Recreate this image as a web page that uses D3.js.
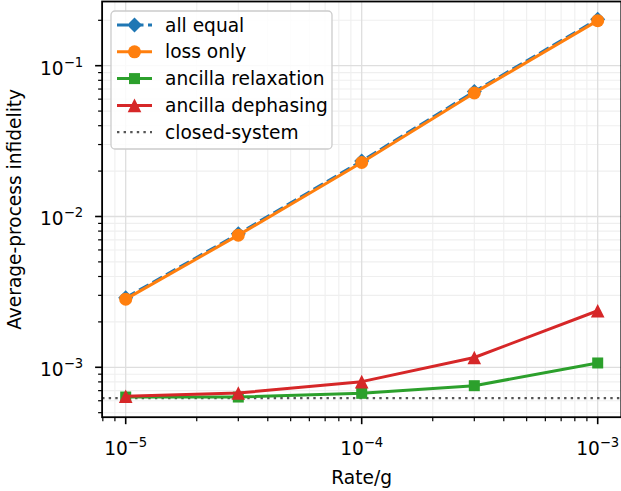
<!DOCTYPE html>
<html><head><meta charset="utf-8">
<script src="https://cdn.jsdelivr.net/npm/d3@7"></script>
<style>body{margin:0;background:#fff}svg{display:block}text{font-family:"DejaVu Sans",sans-serif;fill:#000}</style>
</head><body><svg id="c" width="621" height="491"></svg>
<script>
const rates = [1e-5, 3e-5, 1e-4, 3e-4, 1e-3];
const allEqual = [0.00289, 0.00767, 0.0233, 0.0674, 0.203];
const lossOnly = [0.00283, 0.00752, 0.0228, 0.0660, 0.199];
const ancillaRelaxation = [0.000635, 0.000635, 0.000672, 0.000755, 0.001068];
const ancillaDephasing = [0.000642, 0.000675, 0.000803, 0.001161, 0.00237];
const closedSystem = 0.000625;
const xMajorTicks = [1e-5, 1e-4, 1e-3];
const xTickExps = ["−5", "−4", "−3"];
const yMajorTicks = [1e-3, 1e-2, 1e-1];
const yTickExps = ["−3", "−2", "−1"];
const seriesNames = ["all equal", "loss only", "ancilla relaxation", "ancilla dephasing", "closed-system"];

const svg = d3.select("#c");
const L = 102.1, R = 621.3, T = 1.5, B = 417.2;
const FS = 18.6, SFS = 13.2;
const x = d3.scaleLog().domain([Math.pow(10, -5.1), Math.pow(10, -2.9)]).range([L, R]);
const y = d3.scaleLog().domain([Math.pow(10, -3.331), Math.pow(10, -0.5743)]).range([B, T]);

function minorTicks(lo, hi) {
  const out = [];
  for (let e = Math.floor(Math.log10(lo)); e <= Math.ceil(Math.log10(hi)); e++)
    for (let m = 2; m <= 9; m++) { const v = m * Math.pow(10, e); if (v >= lo && v <= hi) out.push(v); }
  return out;
}
const xMinor = minorTicks(x.domain()[0], x.domain()[1]);
const yMinor = minorTicks(y.domain()[0], y.domain()[1]);

// grid
const g = svg.append("g");
g.selectAll(".xm").data(xMinor).join("line").attr("x1", d => x(d)).attr("x2", d => x(d)).attr("y1", T).attr("y2", B).attr("stroke", "#efefef").attr("stroke-width", 1.1);
g.selectAll(".ym").data(yMinor).join("line").attr("y1", d => y(d)).attr("y2", d => y(d)).attr("x1", L).attr("x2", R).attr("stroke", "#efefef").attr("stroke-width", 1.1);
g.selectAll(".xM").data(xMajorTicks).join("line").attr("x1", d => x(d)).attr("x2", d => x(d)).attr("y1", T).attr("y2", B).attr("stroke", "#dedede").attr("stroke-width", 1.3);
g.selectAll(".yM").data(yMajorTicks).join("line").attr("y1", d => y(d)).attr("y2", d => y(d)).attr("x1", L).attr("x2", R).attr("stroke", "#dedede").attr("stroke-width", 1.3);

svg.append("clipPath").attr("id", "clip").append("rect").attr("x", L).attr("y", T).attr("width", R - L).attr("height", B - T);
const plot = svg.append("g").attr("clip-path", "url(#clip)");

// closed system
plot.append("line").attr("x1", L).attr("x2", R).attr("y1", y(closedSystem)).attr("y2", y(closedSystem))
  .attr("stroke", "#555").attr("stroke-width", 2.2).attr("stroke-dasharray", "2.4,4.2");

const line = d3.line().x((d, i) => x(rates[i])).y(d => y(d));
const series = [
  {vals: allEqual, color: "#1f77b4", dash: "11,4.5", sym: "diamond"},
  {vals: lossOnly, color: "#ff7f0e", dash: null, sym: "circle"},
  {vals: ancillaRelaxation, color: "#2ca02c", dash: null, sym: "square"},
  {vals: ancillaDephasing, color: "#d62728", dash: null, sym: "triangle"}
];
function marker(sel, sym, color) {
  if (sym === "circle") sel.append("circle").attr("r", 6.5).attr("fill", color);
  else if (sym === "square") sel.append("rect").attr("x", -5.5).attr("y", -5.5).attr("width", 11).attr("height", 11).attr("fill", color);
  else if (sym === "diamond") sel.append("path").attr("d", "M0,-7.5L7.5,0L0,7.5L-7.5,0Z").attr("fill", color);
  else if (sym === "triangle") sel.append("path").attr("d", "M0,-6.8L6.8,6.8L-6.8,6.8Z").attr("fill", color);
}
series.forEach(s => {
  const p = plot.append("path").datum(s.vals).attr("d", line).attr("fill", "none").attr("stroke", s.color).attr("stroke-width", 3).attr("stroke-linejoin", "round");
  if (s.dash) p.attr("stroke-dasharray", s.dash);
  s.vals.forEach((v, i) => {
    const m = plot.append("g").attr("transform", `translate(${x(rates[i])},${y(v)})`);
    marker(m, s.sym, s.color);
  });
});

// axes ticks
const ax = svg.append("g");
ax.selectAll(".xt").data(xMajorTicks).join("line").attr("x1", d => x(d)).attr("x2", d => x(d)).attr("y1", B).attr("y2", B + 7).attr("stroke", "#000").attr("stroke-width", 1.6);
ax.selectAll(".xmt").data(xMinor).join("line").attr("x1", d => x(d)).attr("x2", d => x(d)).attr("y1", B).attr("y2", B + 4).attr("stroke", "#000").attr("stroke-width", 1.2);
ax.selectAll(".yt").data(yMajorTicks).join("line").attr("y1", d => y(d)).attr("y2", d => y(d)).attr("x1", L).attr("x2", L - 7).attr("stroke", "#000").attr("stroke-width", 1.6);
ax.selectAll(".ymt").data(yMinor).join("line").attr("y1", d => y(d)).attr("y2", d => y(d)).attr("x1", L).attr("x2", L - 4).attr("stroke", "#000").attr("stroke-width", 1.2);

xMajorTicks.forEach((v, i) => {
  const t = ax.append("text").attr("x", x(v)).attr("y", 455).attr("text-anchor", "middle").attr("font-size", FS);
  t.append("tspan").text("10");
  t.append("tspan").attr("dy", -8).attr("font-size", SFS).text(xTickExps[i]);
});
yMajorTicks.forEach((v, i) => {
  const t = ax.append("text").attr("x", L - 19).attr("y", y(v) + 9).attr("text-anchor", "end").attr("font-size", FS);
  t.append("tspan").text("10");
  t.append("tspan").attr("dy", -8).attr("font-size", SFS).text(yTickExps[i]);
});

// spines
svg.append("rect").attr("x", L).attr("y", T).attr("width", R - L).attr("height", B - T).attr("fill", "none").attr("stroke", "#000").attr("stroke-width", 1.8);

svg.append("text").attr("x", (L + R) / 2).attr("y", 484).attr("text-anchor", "middle").attr("font-size", FS).text("Rate/g");
svg.append("text").attr("transform", `translate(21,${(T + B) / 2}) rotate(-90)`).attr("text-anchor", "middle").attr("font-size", FS).text("Average-process infidelity");

// legend
const lg = svg.append("g");
lg.append("rect").attr("x", 111).attr("y", 11).attr("width", 221).attr("height", 138).attr("rx", 4).attr("fill", "rgba(255,255,255,0.85)").attr("stroke", "#cccccc").attr("stroke-width", 1.3);
const legendItems = [
  {name: seriesNames[0], color: "#1f77b4", sym: "diamond", dash: "11,4.5", w: 3},
  {name: seriesNames[1], color: "#ff7f0e", sym: "circle", dash: null, w: 3},
  {name: seriesNames[2], color: "#2ca02c", sym: "square", dash: null, w: 3},
  {name: seriesNames[3], color: "#d62728", sym: "triangle", dash: null, w: 3},
  {name: seriesNames[4], color: "#555", sym: null, dash: "2.4,4.2", w: 2.2}
];
legendItems.forEach((it, i) => {
  const cy = 25 + i * 26.8;
  const l = lg.append("line").attr("x1", 117).attr("x2", 152).attr("y1", cy).attr("y2", cy).attr("stroke", it.color).attr("stroke-width", it.w);
  if (it.dash) l.attr("stroke-dasharray", it.dash);
  if (it.sym) marker(lg.append("g").attr("transform", `translate(134.5,${cy})`), it.sym, it.color);
  lg.append("text").attr("x", 165).attr("y", cy + 6.5).attr("font-size", FS).text(it.name);
});
</script></body></html>
